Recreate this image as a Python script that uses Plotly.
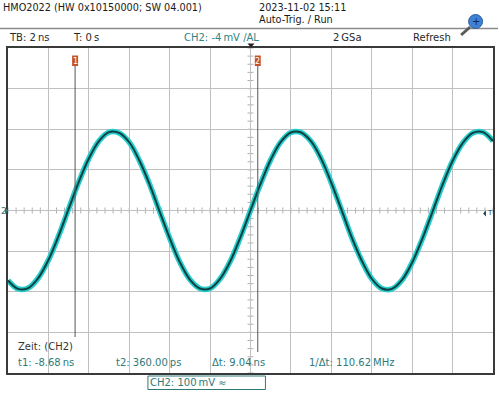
import plotly.graph_objects as go

time_ns = [-12.0, -11.5, -11.0, -10.5, -10.0, -9.5, -9.0, -8.5, -8.0, -7.5,
           -7.0, -6.5, -6.0, -5.5, -5.0, -4.5, -4.0, -3.5, -3.0, -2.5,
           -2.0, -1.5, -1.0, -0.5, 0.0, 0.5, 1.0, 1.5, 2.0, 2.5,
           3.0, 3.5, 4.0, 4.5, 5.0, 5.5, 6.0, 6.5, 7.0, 7.5,
           8.0, 8.5, 9.0, 9.5, 10.0, 10.5, 11.0, 11.5, 12.0]
ch2_mv = [-172, -193, -191, -166, -122, -63, 4, 70, 128, 171,
          193, 191, 168, 123, 65, -2, -68, -127, -170, -192,
          -192, -168, -125, -66, 0, 66, 125, 169, 192, 192,
          170, 127, 68, 2, -65, -123, -168, -192, -193, -171,
          -128, -70, -4, 63, 122, 166, 191, 193, 171]
cursor_ns = [-8.68, 0.36]
cursor_labels = ["1", "2"]
x_range = [-12, 12]
y_range = [-400, 400]
x_div = 2
y_div = 100

header_left = "HMO2022 (HW 0x10150000; SW 04.001)"
header_date = "2023-11-02 15:11"
header_mode = "Auto-Trig. / Run"
status_items = ["TB: 2\u2009ns", "T: 0\u2009s", "CH2: -4\u2009mV /AL", "2\u2009GSa", "Refresh"]
readout_title = "Zeit: (CH2)"
readouts = ["t1: -8.68\u2009ns", "t2: 360.00\u2009ps", "\u0394t: 9.04\u2009ns", "1/\u0394t: 110.62\u2009MHz"]
channel_box = "CH2: 100\u2009mV \u2248"

# ---- geometry helpers (pixel -> paper) ----
W, H = 500, 393
L, R, T, B = 8, 495, 48, 373


def px(x):
    return (x - L) / (R - L)


def py(y):
    return (B - y) / (B - T)


FONT = "DejaVu Sans"
TEAL = "#2e7a7a"
DARK = "#2a2a2a"

fig = go.Figure()
fig.add_trace(go.Scatter(x=time_ns, y=ch2_mv, mode="lines",
                         line=dict(color="#26cccc", width=5.5, shape="spline"),
                         hoverinfo="skip"))
fig.add_trace(go.Scatter(x=time_ns, y=ch2_mv, mode="lines",
                         line=dict(color="#103f3f", width=2, shape="spline"),
                         hoverinfo="skip"))

axis_common = dict(showgrid=True, gridcolor="#c0c0c0", gridwidth=1,
                   zeroline=False, showticklabels=False, ticks="",
                   showline=True, linecolor="#3a3a3a", linewidth=1.5,
                   mirror=True, fixedrange=True)
fig.update_layout(
    width=W, height=H,
    margin=dict(l=L, r=W - R, t=T, b=H - B, pad=0),
    paper_bgcolor="white", plot_bgcolor="white", showlegend=False,
    xaxis=dict(range=x_range, dtick=x_div, tick0=0, **axis_common),
    yaxis=dict(range=y_range, dtick=y_div, tick0=0, **axis_common),
)

# minor ticks on the centre axes
xs_per_px = (x_range[1] - x_range[0]) / (R - L)
ys_per_px = (y_range[1] - y_range[0]) / (B - T)
path = ""
n = int(round((x_range[1] - x_range[0]) / (x_div / 5)))
for i in range(n + 1):
    xv = x_range[0] + i * x_div / 5
    path += f"M{xv},{-3 * ys_per_px} L{xv},{3 * ys_per_px} "
n = int(round((y_range[1] - y_range[0]) / (y_div / 5)))
for i in range(n + 1):
    yv = y_range[0] + i * y_div / 5
    path += f"M{-3 * xs_per_px},{yv} L{3 * xs_per_px},{yv} "
fig.add_shape(type="path", path=path, xref="x", yref="y",
              line=dict(color="#b0b0b0", width=1), layer="below")

# cursors
cursor_bottom = [337, 352]
for c, lab, yb in zip(cursor_ns, cursor_labels, cursor_bottom):
    fig.add_shape(type="line", x0=c, x1=c, xref="x", yref="paper",
                  y0=py(66), y1=py(yb), line=dict(color="#555555", width=1))
    fig.add_shape(type="rect", x0=c - 3 * xs_per_px, x1=c + 3 * xs_per_px,
                  xref="x", yref="paper", y0=py(66), y1=py(55.5),
                  fillcolor="#c4532a", line=dict(width=0))
    fig.add_annotation(text=lab, x=c, y=py(61), xref="x", yref="paper",
                       showarrow=False, xanchor="center", yanchor="middle",
                       font=dict(family=FONT, size=8, color="white"))

# trigger position marker (top)
tx = px(252)
fig.add_shape(type="path", xref="paper", yref="paper",
              path=f"M{tx - 3.5 / (R - L)},{py(43.5)} L{tx + 3.5 / (R - L)},{py(43.5)} L{tx},{py(47.5)} Z",
              fillcolor="#222222", line=dict(width=0))

# header separator
fig.add_shape(type="line", xref="paper", yref="paper", x0=px(0), x1=px(500),
              y0=py(28.5), y1=py(28.5), line=dict(color="#8a8a8a", width=1.5))

# magnifier icon
fig.add_shape(type="line", xref="paper", yref="paper", x0=px(472), y0=py(27),
              x1=px(463), y1=py(35), line=dict(color="#5a5a5a", width=3))
fig.add_shape(type="circle", xref="paper", yref="paper",
              x0=px(470.5), x1=px(484.5), y0=py(14.5), y1=py(28.5),
              fillcolor="#3f82d4", line=dict(color="#2b5c9c", width=1))
fig.add_annotation(text="+", x=px(477.5), y=py(21), xref="paper", yref="paper",
                   showarrow=False, xanchor="center", yanchor="middle",
                   font=dict(family=FONT, size=10, color="#0c2a55"))


def txt(s, x, y, color=DARK, size=10, anchor="left"):
    fig.add_annotation(text=s, x=px(x), y=py(y), xref="paper", yref="paper",
                       xanchor=anchor, yanchor="middle", showarrow=False,
                       borderpad=0,
                       font=dict(family=FONT, size=size, color=color))


txt(header_left, 2, 7, color="#1a1a1a", size=9.7)
txt(header_date, 259, 7, color="#1a1a1a", size=9.7)
txt(header_mode, 259, 19, color="#1a1a1a", size=9.7)

status_x = [8, 72, 184, 333, 414]
status_col = [DARK, DARK, "#2f8585", DARK, DARK]
for s, x, col in zip(status_items, status_x, status_col):
    txt(s, x, 37, color=col)

# channel marker left, trigger level marker right
txt("2", -0.5, 210.5, color=TEAL, size=9)
fig.add_shape(type="path", xref="paper", yref="paper",
              path=f"M{px(5)},{py(207.5)} L{px(5)},{py(213.5)} L{px(8.5)},{py(210.5)} Z",
              fillcolor=TEAL, line=dict(width=0))
fig.add_shape(type="path", xref="paper", yref="paper",
              path=f"M{px(488)},{py(210.5)} L{px(488)},{py(216.5)} L{px(485)},{py(213.5)} Z",
              fillcolor="#1f4f4f", line=dict(width=0))
txt("T", 487.5, 213.5, color="#1f4f4f", size=7)

# readouts
txt(readout_title, 17, 346, color="#333333")
read_x = [17, 115, 211.5, 309]
for s, x in zip(readouts, read_x):
    txt(s, x, 362, color=TEAL)

# channel box
fig.add_shape(type="rect", xref="paper", yref="paper",
              x0=px(148.5), x1=px(266.5), y0=py(376), y1=py(389.5),
              fillcolor="white", line=dict(color=TEAL, width=1))
txt(channel_box, 150, 382.5, color=TEAL)

fig.write_html("out.html", config={"displayModeBar": False},
               post_script="document.body.style.margin='0';document.body.style.padding='0';")
